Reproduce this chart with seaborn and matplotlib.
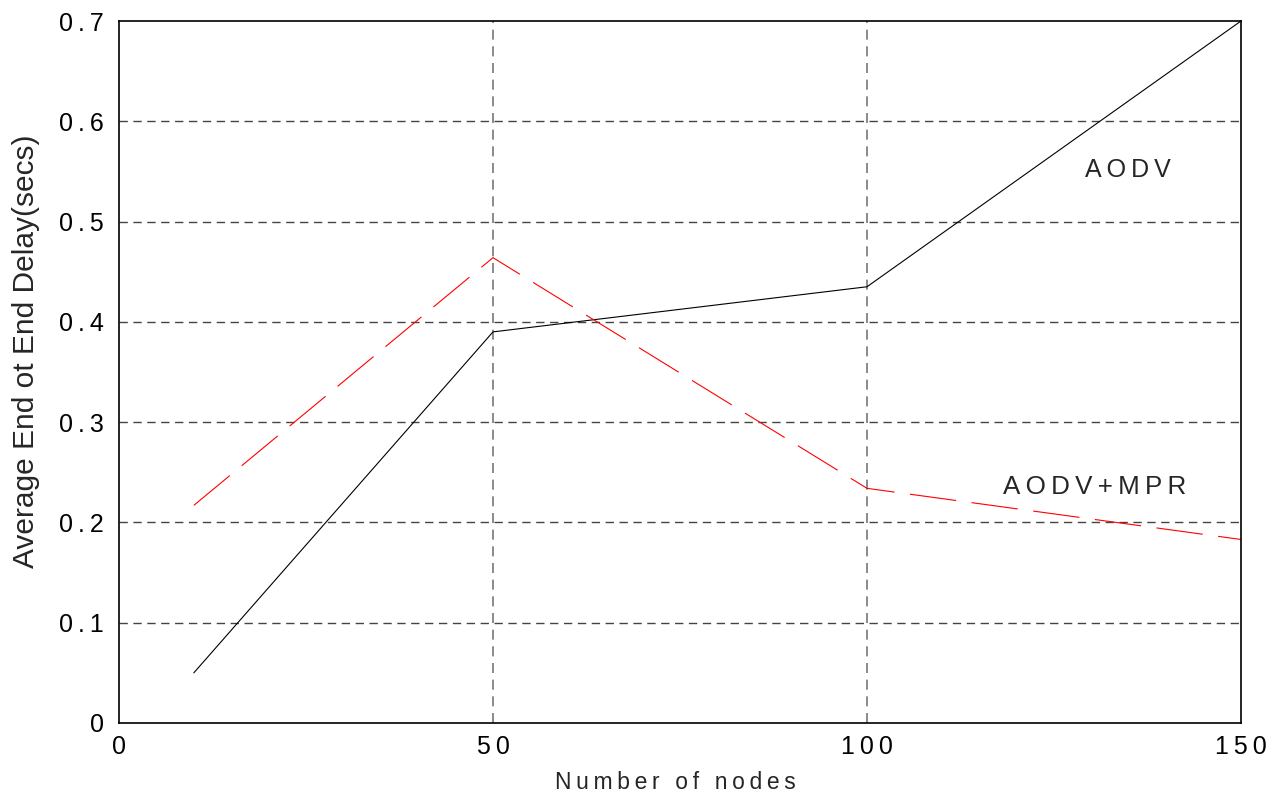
import pandas as pd
import matplotlib.pyplot as plt
import seaborn as sns
from matplotlib.ticker import FuncFormatter


# Data
nodes = [10, 50, 100, 150]
aodv_delay = [0.05, 0.39, 0.435, 0.70]
aodv_mpr_delay = [0.217, 0.464, 0.234, 0.183]

x_ticks = [0, 50, 100, 150]
y_ticks = [0, 0.1, 0.2, 0.3, 0.4, 0.5, 0.6, 0.7]

SP = "\u2009"


def spaced(text: str) -> str:
    """
    Mimic the wide letter spacing of the original figure.
    """
    return SP.join(text)


sns.set_theme(style="white")
plt.rcParams["font.family"] = ["Liberation Sans", "DejaVu Sans"]


def main() -> None:
    df = pd.DataFrame({
        "nodes": nodes * 2,
        "delay": aodv_delay + aodv_mpr_delay,
        "protocol": ["AODV"] * len(nodes) + ["AODV+MPR"] * len(nodes),
    })

    fig = plt.figure(figsize=(12.74, 8), dpi=100)
    ax = fig.add_axes([119 / 1274, 1 - 723 / 800, 1122 / 1274, 702 / 800])

    sns.lineplot(
        data=df[df["protocol"] == "AODV"],
        x="nodes", y="delay", ax=ax,
        color="black", linewidth=0.8, legend=False,
    )
    sns.lineplot(
        data=df[df["protocol"] == "AODV+MPR"],
        x="nodes", y="delay", ax=ax,
        color="red", linewidth=0.8, legend=False,
        dashes=False,
    )
    ax.lines[-1].set_dashes((42, 14))

    ax.set_xlim(0, 150)
    ax.set_ylim(0, 0.7)
    ax.set_xticks(x_ticks)
    ax.set_yticks(y_ticks)
    ax.xaxis.set_major_formatter(FuncFormatter(lambda v, p: spaced(f"{v:g}")))
    ax.yaxis.set_major_formatter(FuncFormatter(lambda v, p: spaced(f"{v:g}")))
    ax.tick_params(axis="both", labelsize=18, length=0, colors="black")
    ax.tick_params(axis="y", pad=11)
    ax.tick_params(axis="x", pad=9)

    # dashed grid only at interior ticks
    for xv in x_ticks[1:-1]:
        ax.axvline(xv, color="#777777", linestyle=(0, (6, 4)), linewidth=1.2, zorder=0)
    for yv in y_ticks[1:-1]:
        ax.axhline(yv, color="#444444", linestyle=(0, (6, 4)), linewidth=1.0, zorder=0)

    for spine in ax.spines.values():
        spine.set_color("black")
        spine.set_linewidth(1.2)

    ax.set_xlabel(spaced("Number of nodes"), fontsize=16.5)
    ax.set_ylabel("Average End ot End Delay(secs)", fontsize=21.5)
    ax.xaxis.set_label_coords(0.496, -0.068)
    ax.yaxis.set_label_coords(-0.070, 0.53)

    ax.text(134.9, 0.551, spaced("AODV"), fontsize=18, ha="center", va="center")
    ax.text(130.4, 0.235, spaced("AODV+MPR"), fontsize=18.7, ha="center", va="center")

    fig.savefig("out.png", dpi=100)
    plt.close(fig)


if __name__ == "__main__":
    main()
